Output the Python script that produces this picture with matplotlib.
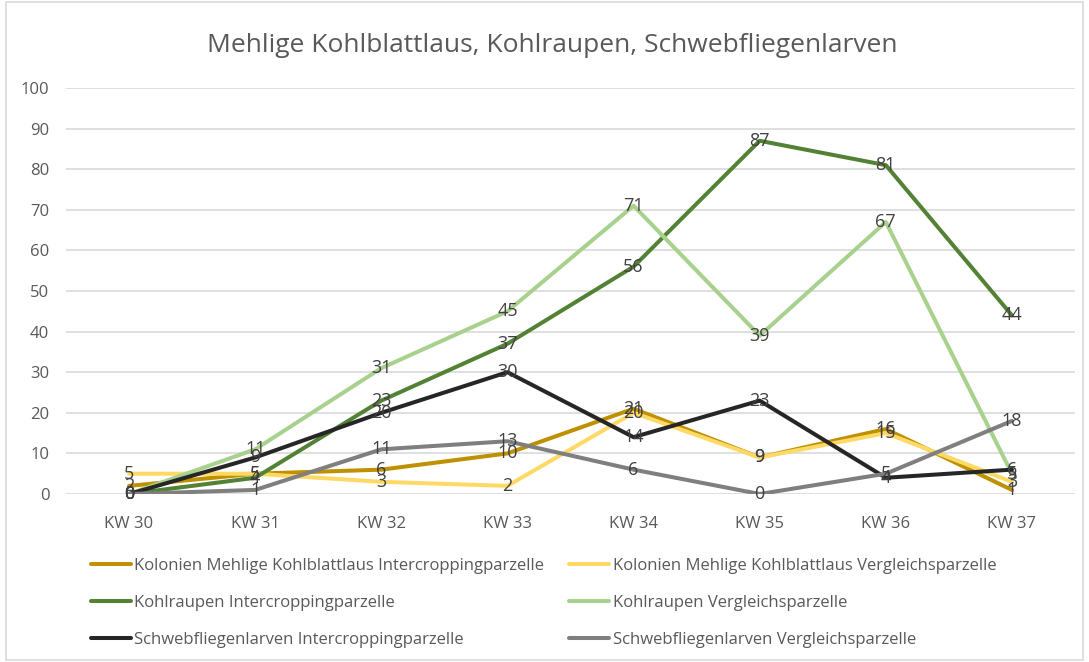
import matplotlib
matplotlib.use("Agg")
import matplotlib.pyplot as plt
from matplotlib.patches import Rectangle

plt.rcParams['font.family'] = ['Open Sans', 'DejaVu Sans']

categories = ["KW 30", "KW 31", "KW 32", "KW 33", "KW 34", "KW 35", "KW 36", "KW 37"]
labels = [
    "Kolonien Mehlige Kohlblattlaus Intercroppingparzelle",
    "Kolonien Mehlige Kohlblattlaus Vergleichsparzelle",
    "Kohlraupen Intercroppingparzelle",
    "Kohlraupen Vergleichsparzelle",
    "Schwebfliegenlarven Intercroppingparzelle",
    "Schwebfliegenlarven Vergleichsparzelle",
]
kolonien_inter = [2, 5, 6, 10, 21, 9, 16, 1]
kolonien_vergl = [5, 5, 3, 2, 20, 9, 15, 3]
raupen_inter = [0, 4, 23, 37, 56, 87, 81, 44]
raupen_vergl = [0, 11, 31, 45, 71, 39, 67, 5]
schweb_inter = [0, 9, 20, 30, 14, 23, 4, 6]
schweb_vergl = [0, 1, 11, 13, 6, 0, 5, 18]
yticks = [0, 10, 20, 30, 40, 50, 60, 70, 80, 90, 100]

series = [kolonien_inter, kolonien_vergl, raupen_inter, raupen_vergl, schweb_inter, schweb_vergl]
colors = ["#BF9000", "#FFD966", "#548235", "#A9D18E", "#262626", "#7F7F7F"]

fig = plt.figure(figsize=(10.89, 6.62), dpi=100)
fig.patches.append(Rectangle((6/1089, 2/662), 1 - 12/1089, 1 - 4/662, transform=fig.transFigure,
                             fill=False, edgecolor="#D9D9D9", linewidth=1.2))

ax = fig.add_axes([66/1089, 1 - 494/662, (1075 - 66)/1089, (494 - 88)/662])
x = list(range(len(categories)))
for vals, col, lab in zip(series, colors, labels):
    ax.plot(x, vals, color=col, linewidth=2.9, label=lab, solid_capstyle='round', zorder=3)
for vals in series:
    for xi, v in zip(x, vals):
        ax.text(xi, v, str(v), ha='center', va='center', fontsize=13, color="#404040", zorder=5)

ax.set_xlim(-0.5, len(categories) - 0.5)
ax.set_ylim(0, 100)
ax.set_yticks(yticks)
ax.set_xticks(x)
ax.set_xticklabels(categories)
ax.grid(axis='y', color="#D9D9D9", linewidth=1.2)
ax.set_axisbelow(True)
for s in ax.spines.values():
    s.set_visible(False)
ax.tick_params(axis='both', length=0, labelsize=12, labelcolor="#595959")
ax.tick_params(axis='x', pad=16)
ax.tick_params(axis='y', pad=12)

fig.text(552/1089, 1 - 45/662, "Mehlige Kohlblattlaus, Kohlraupen, Schwebfliegenlarven",
         ha='center', va='center', fontsize=19, color="#595959")

handles, labs = ax.get_legend_handles_labels()
order = [0, 2, 4, 1, 3, 5]
fig.legend([handles[i] for i in order], [labs[i] for i in order], ncol=2, loc='upper left',
           bbox_to_anchor=(76/1089, 1 - 543/662),
           frameon=False, fontsize=12, labelcolor="#595959", handlelength=2.4,
           handletextpad=0.2, labelspacing=1.25, columnspacing=1.5)

fig.savefig("out.png", dpi=100)
